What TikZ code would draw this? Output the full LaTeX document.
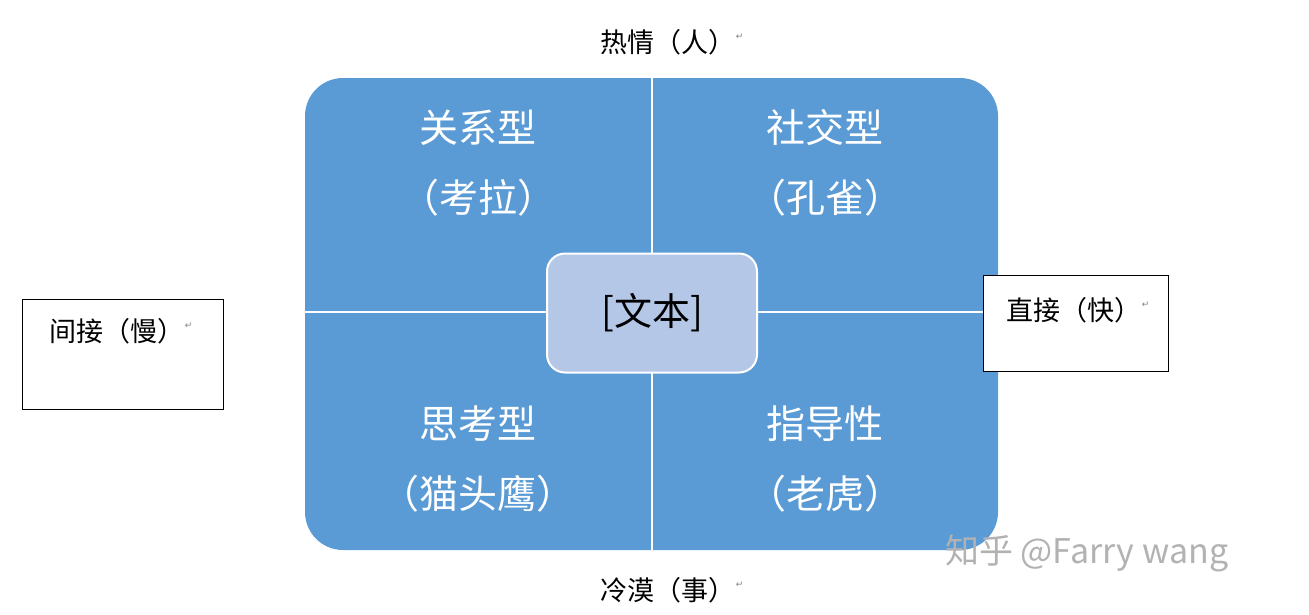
\documentclass[tikz,border=0pt]{standalone}
\usepackage{fontspec}
\setmainfont{Noto Sans CJK SC}
\newfontfamily\cjk{Noto Sans CJK SC}
\newfontfamily\dejavu{DejaVu Sans}
\definecolor{blu}{HTML}{5B9BD5}
\definecolor{lblu}{HTML}{B4C7E7}
\begin{document}
\begin{tikzpicture}[x=1pt,y=-1pt,
  quad/.style={text=white,font=\cjk\fontsize{39}{44}\selectfont,inner sep=0},
  lab/.style={font=\cjk\fontsize{27}{32}\selectfont,inner sep=0},
  ret/.style={font=\dejavu\fontsize{9}{9}\selectfont,text=gray,inner sep=0}]
\useasboundingbox (0,0) rectangle (1309,614);
\fill[blu,rounded corners=38pt] (305,78) rectangle (998,550);
\draw[white,line width=2.5pt] (652,78) -- (652,550) (305,312) -- (998,312);
\node[draw=white,line width=2pt,fill=lblu,rounded corners=18pt,minimum width=210pt,minimum height=119pt,font=\cjk\fontsize{38}{44}\selectfont] (c) at (652,313) {[文本]};
\node[quad] (q1a) at (478,128) {关系型};
\node[quad] (q1b) at (478,198) {（考拉）};
\node[quad] (q2a) at (825,128) {社交型};
\node[quad] (q2b) at (825,198) {（孔雀）};
\node[quad] (q3a) at (478,424) {思考型};
\node[quad] (q3b) at (478,494) {（猫头鹰）};
\node[quad] (q4a) at (825,424) {指导性};
\node[quad] (q4b) at (825,494) {（老虎）};
\node[lab] (top) at (668,42) {热情（人）};
\node[ret,anchor=west] (topr) at (top.east) [yshift=5pt] {↵};
\node[lab] (bot) at (668,590) {冷漠（事）};
\node[ret,anchor=west] (botr) at (bot.east) [yshift=5pt] {↵};
\draw[fill=white] (22,299) rectangle (223,409);
\node[lab] (left) at (117,331) {间接（慢）};
\node[ret,anchor=west] (leftr) at (left.east) [yshift=5pt] {↵};
\draw[fill=white] (983,275) rectangle (1168,371);
\node[lab] (right) at (1074,310) {直接（快）};
\node[ret,anchor=west] (rightr) at (right.east) [yshift=5pt] {↵};
\node[text=gray!60,font=\cjk\fontsize{34}{38}\selectfont,anchor=west,inner sep=0] (wm) at (945,553) {知乎 @Farry wang};
\end{tikzpicture}
\end{document}
